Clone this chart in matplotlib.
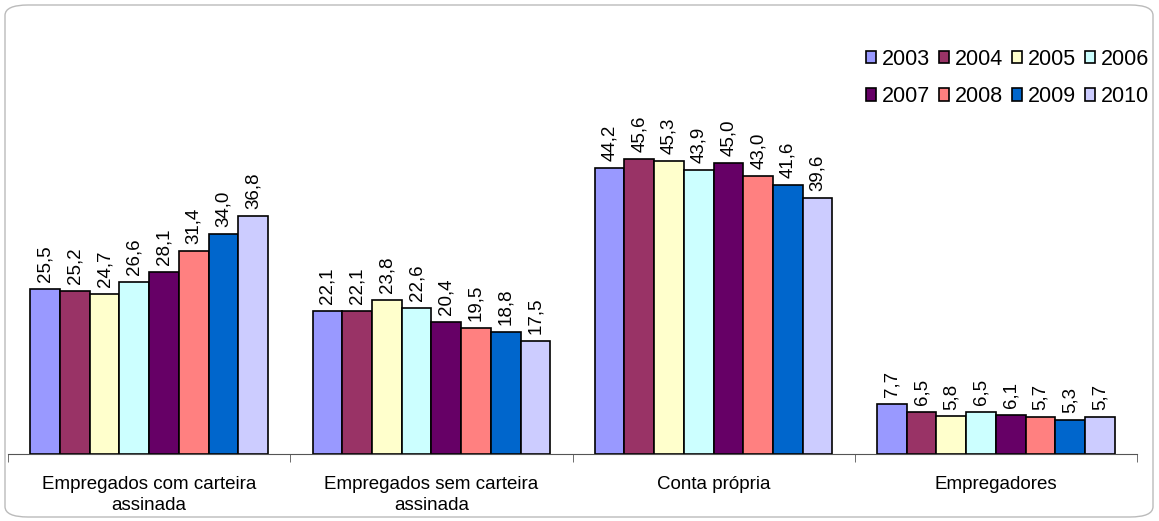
import matplotlib.pyplot as plt
import numpy as np
from matplotlib.patches import FancyBboxPatch

plt.rcParams["font.family"] = ["Liberation Sans", "DejaVu Sans"]

categories = [
    "Empregados com carteira\nassinada",
    "Empregados sem carteira\nassinada",
    "Conta própria",
    "Empregadores",
]
years = ["2003", "2004", "2005", "2006", "2007", "2008", "2009", "2010"]
values = {
    "2003": [25.5, 22.1, 44.2, 7.7],
    "2004": [25.2, 22.1, 45.6, 6.5],
    "2005": [24.7, 23.8, 45.3, 5.8],
    "2006": [26.6, 22.6, 43.9, 6.5],
    "2007": [28.1, 20.4, 45.0, 6.1],
    "2008": [31.4, 19.5, 43.0, 5.7],
    "2009": [34.0, 18.8, 41.6, 5.3],
    "2010": [36.8, 17.5, 39.6, 5.7],
}
colors = ["#9999FF", "#993366", "#FFFFCC", "#CCFFFF",
          "#660066", "#FF8080", "#0066CC", "#CCCCFF"]

W, H = 1159, 521
fig = plt.figure(figsize=(W / 100, H / 100), dpi=100)

# rounded chart border
border = FancyBboxPatch((5 / W, 4 / H), 1148 / W, 512 / H,
                        boxstyle="round,pad=0,rounding_size=0.02",
                        transform=fig.transFigure, facecolor="none",
                        edgecolor="#BBBBBB", linewidth=1.0, zorder=-1)
fig.patches.append(border)

left, right, base, top = 8, 1137, 454, 30
ax = fig.add_axes([left / W, (H - base) / H, (right - left) / W, (base - top) / H])
ax.patch.set_alpha(0)

n = len(years)
bar_w = 1 / 9.5
x = np.arange(len(categories))
handles = []
for i, (yr, col) in enumerate(zip(years, colors)):
    pos = x + (i - (n - 1) / 2) * bar_w
    bars = ax.bar(pos, values[yr], width=bar_w, color=col,
                  edgecolor="black", linewidth=1.2, label=yr, zorder=2)
    handles.append(bars)
    for b, v in zip(bars, values[yr]):
        ax.annotate(f"{v:.1f}".replace(".", ","),
                    (b.get_x() + b.get_width() / 2, b.get_height()),
                    xytext=(0, 5), textcoords="offset points",
                    rotation=90, ha="center", va="bottom", fontsize=13.5)

ax.set_xlim(-0.5, len(categories) - 0.5)
ax.set_ylim(0, (base - top) / 6.47)
ax.set_yticks([])
for s in ["top", "right", "left"]:
    ax.spines[s].set_visible(False)
ax.spines["bottom"].set_color("#555555")
ax.set_xticks(x)
ax.set_xticklabels(categories, fontsize=13.5, linespacing=1.3)
ax.tick_params(axis="x", which="major", length=0, pad=16)
ax.set_xticks(np.arange(-0.5, len(categories), 1), minor=True)
ax.tick_params(axis="x", which="minor", length=6, color="#555555")

# legend filled row by row, like the original
order = [0, 4, 1, 5, 2, 6, 3, 7]
fig.legend([handles[k] for k in order], [years[k] for k in order],
           ncol=4, loc="upper right", bbox_to_anchor=(1149 / W, 1 - 49 / H),
           frameon=False, fontsize=15.5, handlelength=0.5, handleheight=0.5,
           handletextpad=0.25, columnspacing=0.4, labelspacing=0.75,
           borderaxespad=0, borderpad=0)

fig.savefig("out.png", dpi=100)
